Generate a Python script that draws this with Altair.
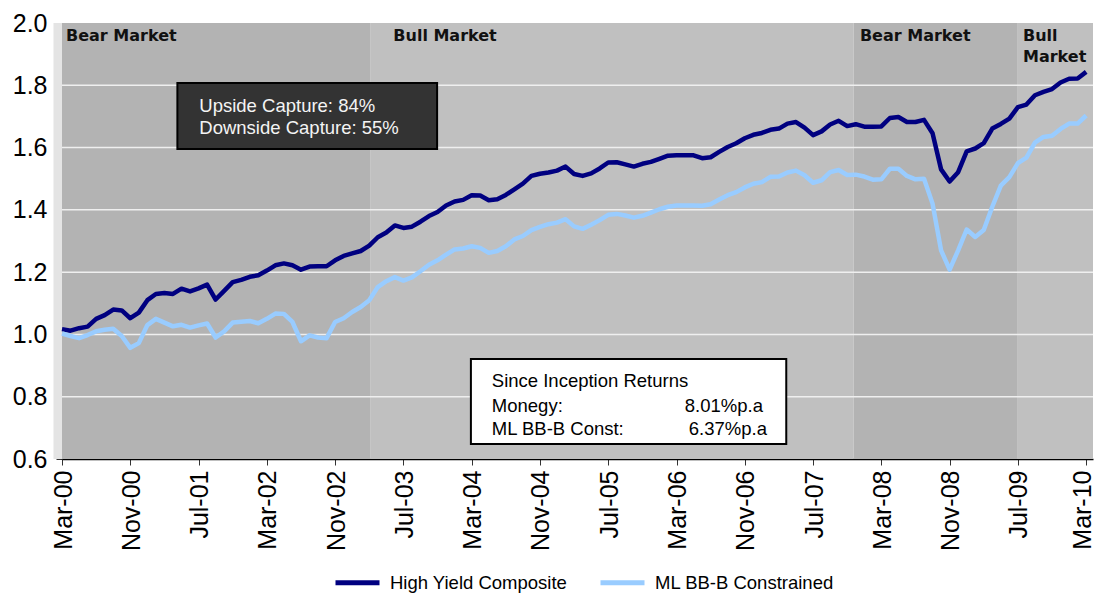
import json
import altair as alt
import pandas as pd

# ---------------- data ----------------
months = pd.date_range("2000-03-01", periods=121, freq="MS").strftime("%b-%y").tolist()

high_yield_composite = [
    1.017, 1.012, 1.020, 1.025, 1.050, 1.062, 1.080, 1.077, 1.052, 1.070,
    1.110, 1.130, 1.133, 1.130, 1.147, 1.138, 1.148, 1.160, 1.112, 1.140,
    1.168, 1.175, 1.185, 1.190, 1.205, 1.222, 1.228, 1.222, 1.208, 1.218,
    1.219, 1.219, 1.238, 1.252, 1.260, 1.268, 1.285, 1.312, 1.327, 1.350,
    1.342, 1.346, 1.362, 1.380, 1.393, 1.414, 1.427, 1.432, 1.447, 1.446,
    1.431, 1.434, 1.448, 1.466, 1.484, 1.509, 1.516, 1.520, 1.526, 1.539,
    1.515, 1.509, 1.517, 1.533, 1.552, 1.553, 1.546, 1.539, 1.548, 1.554,
    1.564, 1.574, 1.575, 1.575, 1.575, 1.566, 1.569, 1.586, 1.602, 1.614,
    1.630, 1.641, 1.647, 1.657, 1.661, 1.677, 1.682, 1.664, 1.640, 1.652,
    1.674, 1.686, 1.669, 1.675, 1.667, 1.667, 1.668, 1.695, 1.698, 1.682,
    1.682, 1.689, 1.646, 1.530, 1.491, 1.521, 1.588, 1.597, 1.614, 1.661,
    1.676, 1.693, 1.730, 1.738, 1.768, 1.779, 1.788, 1.809, 1.821, 1.822,
    1.843,
]

ml_bbb_constrained = [
    1.003, 0.995, 0.988, 0.998, 1.010, 1.015, 1.018, 0.995, 0.957, 0.972,
    1.030, 1.050, 1.038, 1.026, 1.031, 1.022, 1.029, 1.035, 0.990, 1.010,
    1.038, 1.041, 1.043, 1.036, 1.050, 1.067, 1.066, 1.040, 0.978, 0.997,
    0.990, 0.988, 1.040, 1.052, 1.072, 1.088, 1.110, 1.152, 1.171, 1.184,
    1.173, 1.183, 1.203, 1.224, 1.238, 1.256, 1.273, 1.276, 1.283, 1.278,
    1.262, 1.268, 1.283, 1.305, 1.316, 1.335, 1.345, 1.354, 1.359, 1.370,
    1.347, 1.339, 1.352, 1.367, 1.384, 1.387, 1.382, 1.375, 1.381, 1.391,
    1.402, 1.410, 1.414, 1.414, 1.414, 1.413, 1.418, 1.433, 1.447, 1.457,
    1.472, 1.484, 1.489, 1.506, 1.507, 1.520, 1.526, 1.511, 1.487, 1.495,
    1.521, 1.528, 1.512, 1.513, 1.507, 1.497, 1.498, 1.532, 1.532, 1.509,
    1.498, 1.500, 1.420, 1.270, 1.208, 1.270, 1.337, 1.313, 1.335, 1.410,
    1.478, 1.505, 1.550, 1.568, 1.616, 1.634, 1.638, 1.660, 1.677, 1.677,
    1.703,
]

series_names = ["High Yield Composite", "ML BB-B Constrained"]

tick_months = list(range(0, 121, 8))
tick_labels = [months[i] for i in tick_months]
y_ticks = [0.6, 0.8, 1.0, 1.2, 1.4, 1.6, 1.8, 2.0]

phase_names = ["Bear Market", "Bull Market", "Bear Market", "Bull Market"]
phase_start = [0, 36.1, 92.75, 111.9]
phase_end = [36.1, 92.75, 111.9, 120.8]

capture_lines = ["Upside Capture: 84%", "Downside Capture: 55%"]
returns_title = "Since Inception Returns"
returns_names = ["Monegy:", "ML BB-B Const:"]
returns_values = ["8.01%p.a", "6.37%p.a"]

# ---------------- tables ----------------
n = len(months)
df_lines = pd.DataFrame({
    "m": list(range(n)) * 2,
    "month": months * 2,
    "value": high_yield_composite + ml_bbb_constrained,
    "series": [series_names[0]] * n + [series_names[1]] * n,
})
df_phase = pd.DataFrame({"phase": phase_names, "start": phase_start, "end": phase_end,
                         "lo": 0.6, "hi": 2.0})
df_grid = pd.DataFrame({"v": y_ticks[1:-1]})

FONT = "Liberation Sans"
xs = alt.Scale(domain=[0, 120.8], nice=False, zero=False)
ys = alt.Scale(domain=[0.6, 2.0], nice=False, zero=False)

label_expr = json.dumps(tick_labels) + "[round(datum.value / 8)]"
x_axis = alt.Axis(values=tick_months, labelExpr=label_expr, labelAngle=270, labelFontSize=25,
                  labelFont=FONT, labelColor="black", tickSize=6, tickColor="#333333",
                  domainColor="black", domainWidth=1.5, grid=False, title=None,
                  labelPadding=5,
                  labelOffset={"condition": {"test": "datum.value >= 120", "value": -4},
                               "value": 1},
                  labelOverlap=False, labelFlush=False)
y_axis = alt.Axis(values=y_ticks, format=".1f", labelFontSize=25, labelFont=FONT,
                  labelColor="black", tickSize=6, tickColor="#333333", domainColor="black",
                  domainWidth=1.5, grid=False, title=None, labelPadding=9)


def X(field):
    return alt.X(field, scale=xs, axis=x_axis)


def Y(field):
    return alt.Y(field, scale=ys, axis=y_axis)


bg = alt.Chart(df_phase).mark_rect().encode(
    x=X("start:Q"), x2="end:Q", y=Y("lo:Q"), y2="hi:Q",
    fill=alt.condition("datum.phase == 'Bear Market'", alt.value("#b3b3b3"), alt.value("#c0c0c0")),
)

strip = alt.Chart(pd.DataFrame({"a": [-1.0], "b": [0.0], "lo": [0.6], "hi": [2.0]})).mark_rect(
    color="#e4e4e4").encode(x=X("a:Q"), x2="b:Q", y=Y("lo:Q"), y2="hi:Q")

grid = alt.Chart(df_grid).mark_rule(color="#efefef", strokeWidth=1.5).encode(y=Y("v:Q"))

# market phase labels
df_phase_lbl = pd.DataFrame({
    "text": ["Bear Market", "Bull Market", "Bear Market", "Bull", "Market"],
    "x": [0.47, 38.82, 93.49, 112.6, 112.6],
    "y": [1.943, 1.943, 1.943, 1.943, 1.8757],
})
phase_lbl = alt.Chart(df_phase_lbl).mark_text(
    align="left", baseline="alphabetic", font="DejaVu Sans", fontWeight="bold",
    fontSize=16, color="#111111").encode(x=X("x:Q"), y=Y("y:Q"), text="text:N")

lines = alt.Chart(df_lines).mark_line(strokeWidth=4.5, strokeJoin="round").encode(
    x=X("m:Q"), y=Y("value:Q"),
    color=alt.Color("series:N",
                    scale=alt.Scale(domain=series_names, range=["#000080", "#99ccff"]),
                    legend=alt.Legend(title=None, orient="none", legendX=271, legendY=535,
                                      direction="horizontal", symbolType="stroke",
                                      symbolSize=1936, symbolStrokeWidth=5,
                                      labelFontSize=18.5, labelFont=FONT, labelColor="black",
                                      labelOffset=8, columnPadding=22, padding=0,
                                      labelLimit=400)),
    detail="series:N",
)

# capture box
df_box1 = pd.DataFrame({"x": [13.52], "x2": [43.95], "y": [1.5954], "y2": [1.8073]})
box1 = alt.Chart(df_box1).mark_rect(fill="#333333", stroke="black", strokeWidth=2).encode(
    x=X("x:Q"), x2="x2:Q", y=Y("y:Q"), y2="y2:Q")
df_t1 = pd.DataFrame({"text": capture_lines, "x": [16.09, 16.09], "y": [1.7152, 1.6436]})
t1 = alt.Chart(df_t1).mark_text(align="left", baseline="alphabetic", font=FONT, fontSize=18.5,
                                color="#f4f4f4").encode(x=X("x:Q"), y=Y("y:Q"), text="text:N")

# returns box
df_box2 = pd.DataFrame({"x": [47.91], "x2": [84.86], "y": [0.6482], "y2": [0.921]})
box2 = alt.Chart(df_box2).mark_rect(fill="white", stroke="black", strokeWidth=2).encode(
    x=X("x:Q"), x2="x2:Q", y=Y("y:Q"), y2="y2:Q")
df_t2 = pd.DataFrame({
    "text": [returns_title] + returns_names + returns_values,
    "x": [50.36, 50.36, 50.36, 72.97, 73.44],
    "y": [0.830, 0.752, 0.677, 0.752, 0.677],
})
t2 = alt.Chart(df_t2).mark_text(align="left", baseline="alphabetic", font=FONT, fontSize=18.5,
                                color="black").encode(x=X("x:Q"), y=Y("y:Q"), text="text:N")

chart = alt.layer(bg, strip, grid, phase_lbl, lines, box1, t1, box2, t2).properties(
    width=1031, height=436,
    padding={"left": 54, "top": 15, "right": 2, "bottom": 135},
    autosize=alt.AutoSizeParams(type="none"),
    background="white",
).configure_view(strokeWidth=0)

chart.save("out.html", embed_options={"renderer": "svg", "actions": False})
